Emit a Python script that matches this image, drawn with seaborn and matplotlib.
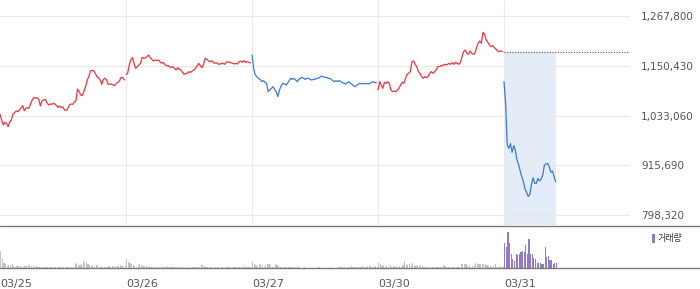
import numpy as np
import pandas as pd
import matplotlib
matplotlib.use("Agg")
import matplotlib.pyplot as plt
import seaborn as sns
from matplotlib.lines import Line2D
from matplotlib.patches import Patch

# ---------------- data ----------------
days = ["03/25", "03/26", "03/27", "03/30", "03/31"]
slots_per_day = 78  # 5-minute bars per session

# prices in thousands of KRW
price_0325 = [1035.8, 1022.5, 1010.7, 1017.0, 1014.6, 1006.8, 1017.0, 1022.5, 1035.8, 1039.8,
              1043.7, 1042.1, 1046.1, 1050.0, 1056.3, 1044.5, 1050.0, 1051.6, 1050.0, 1061.8,
              1069.7, 1075.9, 1073.6, 1075.2, 1071.2, 1055.5, 1067.3, 1069.7, 1071.2, 1064.2,
              1057.9, 1060.2, 1059.4, 1061.8, 1060.2, 1056.3, 1052.4, 1055.5, 1051.6, 1053.2,
              1046.1, 1045.3, 1050.0, 1057.9, 1060.2, 1059.4, 1064.2, 1068.1, 1095.6, 1089.3,
              1081.5, 1079.9, 1090.9, 1101.1, 1116.8, 1124.7, 1138.1, 1139.6, 1138.9, 1132.6,
              1124.7, 1122.3, 1116.8, 1106.6, 1118.4, 1120.8, 1116.8, 1106.6, 1107.4, 1106.6,
              1105.0, 1103.5, 1109.0, 1111.3, 1115.3, 1123.1, 1122.3, 1116.8]
price_0326 = [1130.0, 1132.6, 1152.2, 1164.0, 1169.5, 1156.2, 1144.4, 1148.3, 1152.2, 1156.2,
              1170.3, 1168.0, 1169.5, 1171.9, 1175.8, 1169.5, 1165.6, 1161.7, 1164.0, 1162.4,
              1164.0, 1160.1, 1156.2, 1158.5, 1153.8, 1150.6, 1150.6, 1148.3, 1145.9, 1148.3,
              1144.4, 1140.4, 1145.9, 1142.8, 1140.4, 1134.9, 1130.2, 1132.6, 1132.6, 1136.5,
              1134.9, 1138.1, 1140.4, 1144.4, 1149.9, 1156.2, 1150.6, 1145.9, 1153.8, 1168.0,
              1166.4, 1161.7, 1160.1, 1162.4, 1158.5, 1156.2, 1157.7, 1154.6, 1153.8, 1156.2,
              1156.2, 1153.8, 1158.5, 1160.1, 1158.5, 1157.7, 1156.2, 1154.6, 1156.2, 1154.6,
              1160.1, 1161.7, 1158.5, 1162.4, 1158.5, 1160.1, 1158.5, 1157.0]
price_0327 = [1175.8, 1144.4, 1128.6, 1124.7, 1120.8, 1118.4, 1112.9, 1115.3, 1111.3, 1109.0,
              1089.3, 1093.2, 1097.2, 1101.1, 1094.8, 1089.3, 1077.5, 1093.2, 1102.7, 1109.0,
              1107.4, 1105.0, 1109.0, 1115.3, 1120.8, 1118.4, 1120.8, 1116.8, 1112.9, 1118.4,
              1120.8, 1123.1, 1120.8, 1118.4, 1120.8, 1120.8, 1118.4, 1116.8, 1118.4, 1118.4,
              1120.8, 1120.8, 1123.1, 1126.3, 1124.7, 1123.1, 1123.1, 1120.8, 1120.8, 1118.4,
              1115.3, 1112.9, 1115.3, 1112.9, 1115.3, 1112.9, 1110.5, 1109.0, 1107.4, 1110.5,
              1112.9, 1109.0, 1106.6, 1102.7, 1101.1, 1105.0, 1107.4, 1109.0, 1107.4, 1109.0,
              1107.4, 1109.0, 1107.4, 1109.0, 1111.3, 1112.9, 1110.5, 1110.5]
price_0330 = [1093.3, 1112.9, 1105.1, 1097.2, 1111.4, 1109.0, 1112.9, 1109.0, 1093.3, 1089.3,
              1090.9, 1089.3, 1093.3, 1097.2, 1105.1, 1111.4, 1109.0, 1120.8, 1130.2, 1132.6,
              1136.5, 1160.1, 1161.7, 1153.8, 1148.3, 1136.5, 1132.6, 1124.7, 1120.8, 1124.7,
              1122.4, 1124.7, 1132.6, 1136.5, 1132.6, 1136.5, 1140.4, 1148.3, 1148.3, 1150.7,
              1150.7, 1153.8, 1152.2, 1153.8, 1156.2, 1153.8, 1157.7, 1153.8, 1158.5, 1156.2,
              1153.8, 1158.5, 1171.9, 1183.7, 1187.6, 1179.8, 1177.4, 1185.3, 1179.8, 1177.4,
              1179.8, 1193.1, 1203.4, 1208.9, 1203.4, 1229.3, 1224.6, 1211.2, 1205.7, 1199.4,
              1195.5, 1197.8, 1193.1, 1190.0, 1185.3, 1183.7, 1185.3, 1183.7]
price_0331 = [1112.9, 1060.0, 963.5, 955.6, 966.7, 946.2, 961.9, 951.7, 928.1, 917.9,
              902.2, 888.8, 877.0, 859.7, 851.9, 842.0, 847.1, 870.7, 886.5, 873.1,
              873.1, 884.9, 878.6, 883.3, 892.7, 916.3, 918.7, 920.3, 912.4, 899.0,
              902.2, 888.8, 877.0]

vol_0325 = [173, 93, 53, 37, 20, 27, 30, 43, 20, 13,
            20, 23, 20, 13, 13, 17, 20, 33, 27, 20,
            17, 13, 20, 13, 10, 13, 13, 7, 10, 13,
            10, 13, 10, 13, 10, 0, 10, 13, 13, 10,
            0, 13, 10, 0, 13, 13, 53, 43, 27, 30,
            43, 70, 47, 57, 43, 30, 27, 23, 23, 27,
            30, 13, 13, 13, 13, 13, 13, 17, 13, 20,
            17, 20, 23, 17, 27, 17, 13, 20]
vol_0326 = [93, 60, 53, 37, 30, 20, 13, 27, 43, 27,
            20, 17, 17, 13, 17, 13, 13, 13, 10, 10,
            13, 13, 13, 10, 13, 20, 13, 13, 10, 10,
            10, 13, 13, 10, 10, 10, 0, 10, 0, 10,
            0, 10, 13, 10, 10, 13, 27, 30, 17, 13,
            13, 10, 13, 10, 0, 13, 10, 13, 0, 10,
            0, 13, 13, 10, 10, 0, 10, 10, 13, 10,
            10, 10, 13, 17, 10, 10, 13, 10]
vol_0327 = [63, 37, 27, 13, 27, 43, 27, 13, 27, 37,
            43, 20, 13, 13, 37, 27, 20, 13, 13, 13,
            13, 13, 13, 13, 10, 13, 10, 0, 10, 0,
            0, 0, 13, 0, 0, 0, 0, 0, 0, 0,
            0, 13, 0, 0, 0, 0, 0, 0, 10, 0,
            0, 0, 0, 13, 10, 13, 13, 13, 13, 13,
            13, 20, 13, 13, 13, 13, 13, 13, 17, 13,
            13, 20, 17, 20, 13, 13, 17, 13]
vol_0330 = [53, 37, 20, 27, 13, 20, 13, 27, 13, 20,
            13, 20, 13, 20, 13, 27, 67, 43, 27, 37,
            27, 53, 30, 20, 27, 20, 27, 20, 13, 13,
            13, 13, 13, 13, 13, 13, 13, 13, 13, 13,
            33, 20, 13, 13, 13, 13, 13, 13, 13, 13,
            13, 37, 43, 43, 43, 20, 27, 13, 20, 27,
            53, 43, 37, 43, 43, 43, 43, 27, 20, 20,
            13, 27, 37, 13, 13, 13, 13, 20]
vol_0331 = [253, 213, 363, 253, 143, 87, 70, 143, 127, 137,
            163, 170, 163, 230, 137, 293, 143, 137, 103, 93,
            53, 53, 53, 37, 43, 213, 113, 123, 77, 77,
            37, 53, 53]

price_ticks = [798320, 915690, 1033060, 1150430, 1267800]
volume_label = "거래량"

# ---------------- styling ----------------
RED = "#f2333f"
BLUE = "#3a7ad8"
GRAY_BAR = "#c2c2c6"
PURPLE = "#9479c4"
day_color = {"03/25": RED, "03/26": RED, "03/27": BLUE, "03/30": RED, "03/31": BLUE}

sns.set_style("white")
plt.rcParams["font.family"] = ["DejaVu Sans", "Noto Sans CJK KR"]

prices = [price_0325, price_0326, price_0327, price_0330, price_0331]
vols = [vol_0325, vol_0326, vol_0327, vol_0330, vol_0331]

rows = []
vrows = []
for d, (day, p, v) in enumerate(zip(days, prices, vols)):
    for i, val in enumerate(p):
        rows.append({"x": d * slots_per_day + i, "price": val * 1000, "day": day})
    for i, val in enumerate(v):
        vrows.append({"x": d * slots_per_day + i + 0.5, "vol": val,
                      "kind": "today" if day == days[-1] else "past"})
df = pd.DataFrame(rows)
dfv = pd.DataFrame(vrows)

prev_close = price_0330[-1] * 1000
day_starts = [d * slots_per_day for d in range(len(days))]
x_end = len(days) * slots_per_day

W, H = 700, 289
fig = plt.figure(figsize=(W / 100, H / 100), dpi=100)
ax = fig.add_axes([0, 1 - 225 / H, 630 / W, 225 / H])
axv = fig.add_axes([0, 21 / H, 630 / W, 42 / H])

ylo, yhi = 774800, 1305500

# shaded area for today's session
today = df[df["day"] == days[-1]]
ax.fill_between(today["x"], prev_close, ylo, color="#e4ecf8", lw=0, zorder=0.3)
ax.hlines(prev_close, day_starts[-1], x_end, colors="#555555",
          linestyles=(0, (1, 1.4)), lw=0.8, zorder=1)

sns.lineplot(data=df, x="x", y="price", hue="day", palette=day_color,
             estimator=None, legend=False, linewidth=0.9, ax=ax, zorder=3)

ax.set_xlim(0, x_end)
ax.set_ylim(ylo, yhi)
ax.yaxis.tick_right()
ax.set_yticks(price_ticks)
ax.set_yticklabels([f"{t:,}" for t in price_ticks])
ax.tick_params(axis="y", length=0, pad=8, labelsize=7.5, labelcolor="#555555")
ax.set_xticks(day_starts[1:])
ax.tick_params(axis="x", length=0, labelbottom=False)
ax.grid(True, color="#e9e9e9", lw=0.8)
ax.set_axisbelow(True)
for s in ax.spines.values():
    s.set_visible(False)
ax.set_xlabel("")
ax.set_ylabel("")

# volume bars
for kind, col in (("past", GRAY_BAR), ("today", PURPLE)):
    sub = dfv[dfv["kind"] == kind]
    sns.barplot(x=sub["x"].to_numpy(), y=sub["vol"].to_numpy(), color=col,
                native_scale=True, width=0.75, errorbar=None, linewidth=0,
                saturation=1, ax=axv)
if len(axv.patches) == 0:
    for kind, col in (("past", GRAY_BAR), ("today", PURPLE)):
        sub = dfv[dfv["kind"] == kind]
        axv.bar(sub["x"], sub["vol"], width=0.75, color=col, linewidth=0)

axv.set_xlim(0, x_end)
axv.set_ylim(0, 420)
axv.set_yticks([])
axv.set_xticks(day_starts)
axv.set_xticklabels(days)
for lab in axv.get_xticklabels():
    lab.set_ha("left")
axv.tick_params(axis="x", length=3, width=0.9, color="#666666", pad=5,
                labelsize=8, labelcolor="#555555")
for s in axv.spines.values():
    s.set_visible(False)
axv.set_xlabel("")
axv.set_ylabel("")

# separator lines across the full width
for yy in (225.5, 268.3):
    fig.add_artist(Line2D([0, 1], [1 - yy / H, 1 - yy / H], transform=fig.transFigure,
                          color="#7a7a7a", lw=1.0))

fig.legend(handles=[Patch(facecolor=PURPLE, edgecolor="none")], labels=[volume_label],
           loc="center left", bbox_to_anchor=(652 / W, 1 - 238.5 / H), frameon=False,
           handlelength=0.3, handleheight=1.2, handletextpad=0.35, borderpad=0,
           borderaxespad=0, labelcolor="#333333",
           prop={"family": ["Noto Sans CJK KR", "DejaVu Sans"], "size": 6.5})

fig.savefig("out.png", dpi=100)
